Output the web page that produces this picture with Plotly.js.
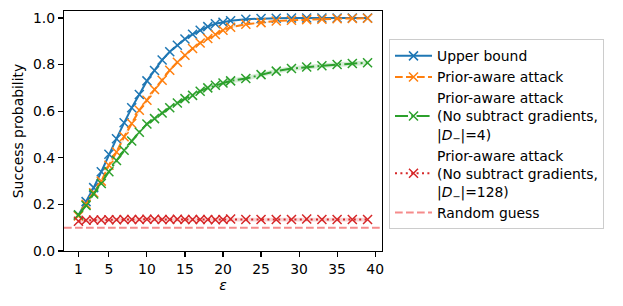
<!DOCTYPE html>
<html>
<head>
<meta charset="utf-8">
<script src="https://cdn.plot.ly/plotly-3.0.1.min.js"></script>
<style>html,body{margin:0;padding:0;background:#fff;}#chart{width:623px;height:306px;}</style>
</head>
<body>
<div id="chart"></div>
<script>
// ---- data ----
const eps = [1,2,3,4,5,6,7,8,9,10,11,12,13,14,15,16,17,18,19,20,21,23,25,27,29,31,33,35,37,39];
const upperBound = [0.153,0.212,0.272,0.340,0.415,0.482,0.550,0.615,0.672,0.730,0.775,0.820,0.855,0.883,0.910,0.930,0.947,0.963,0.975,0.982,0.988,0.995,0.998,0.999,1.000,1.000,1.000,1.000,1.000,1.000];
const priorAware = [0.150,0.200,0.250,0.300,0.368,0.425,0.490,0.547,0.604,0.647,0.693,0.733,0.776,0.810,0.840,0.869,0.893,0.912,0.929,0.947,0.960,0.973,0.980,0.987,0.990,0.993,0.995,0.997,0.998,0.999];
const priorAwareStd = [0.005,0.006,0.008,0.009,0.010,0.011,0.011,0.011,0.010,0.010,0.009,0.009,0.008,0.008,0.007,0.007,0.006,0.006,0.005,0.005,0.004,0.004,0.003,0.003,0.003,0.002,0.002,0.002,0.002,0.002];
const noSub4 = [0.155,0.195,0.245,0.290,0.340,0.388,0.432,0.472,0.510,0.545,0.568,0.592,0.615,0.635,0.654,0.668,0.686,0.700,0.711,0.721,0.730,0.740,0.757,0.772,0.783,0.790,0.795,0.800,0.805,0.808];
const noSub4Std = [0.005,0.006,0.007,0.007,0.008,0.008,0.008,0.008,0.008,0.008,0.008,0.008,0.008,0.009,0.009,0.009,0.009,0.009,0.009,0.009,0.010,0.010,0.010,0.010,0.010,0.010,0.010,0.010,0.010,0.010];
const noSub128 = [0.128,0.132,0.133,0.133,0.134,0.134,0.135,0.135,0.135,0.136,0.136,0.135,0.135,0.136,0.135,0.135,0.135,0.135,0.134,0.135,0.137,0.135,0.135,0.135,0.135,0.137,0.135,0.135,0.135,0.135];
const noSub128Std = [0.008,0.008,0.008,0.008,0.008,0.008,0.008,0.008,0.008,0.008,0.008,0.008,0.008,0.008,0.008,0.008,0.008,0.008,0.008,0.008,0.008,0.008,0.008,0.008,0.008,0.008,0.008,0.008,0.008,0.008];
const randomGuess = 0.1;
const xRange = [-0.9, 40.9];
const yRange = [0, 1.03];
const xTicks = [1,5,10,15,20,25,30,35,40];
const yTicks = [0.0,0.2,0.4,0.6,0.8,1.0];
const seriesNames = [
  "Upper bound",
  "Prior-aware attack",
  "Prior-aware attack<br>(No subtract gradients,<br>|<i>D</i><sub>−</sub>|=4)",
  "Prior-aware attack<br>(No subtract gradients,<br>|<i>D</i><sub>−</sub>|=128)",
  "Random guess"
];

const C0='#1f77b4', C1='#ff7f0e', C2='#2ca02c', C3='#d62728', CR='#f58b8b';
const FONT = 'DejaVu Sans, sans-serif';

function band(mean, std, fill){
  return [
    {x: eps, y: mean.map((m,i)=>m-std[i]), mode:'lines', line:{width:0, color:fill}, showlegend:false, hoverinfo:'skip'},
    {x: eps, y: mean.map((m,i)=>m+std[i]), mode:'lines', line:{width:0, color:fill}, fill:'tonexty', fillcolor:fill, showlegend:false, hoverinfo:'skip'}
  ];
}
function series(y, name, color, dash){
  return {x: eps, y: y, name: name, mode:'lines+markers',
    line:{color:color, width:2, dash:dash},
    marker:{symbol:'x-thin', size:9, color:color, line:{color:color, width:1.5}}};
}

const traces = [
  ...band(priorAware, priorAwareStd, 'rgba(255,127,14,0.2)'),
  ...band(noSub4, noSub4Std, 'rgba(44,160,44,0.2)'),
  ...band(noSub128, noSub128Std, 'rgba(214,39,40,0.2)'),
  series(upperBound, seriesNames[0], C0, 'solid'),
  series(priorAware, seriesNames[1], C1, '7.7px,3.3px'),
  series(noSub4, seriesNames[2], C2, '13px,3.3px,2px,3.3px'),
  series(noSub128, seriesNames[3], C3, '2px,3.4px'),
  {x: xRange, y: [randomGuess, randomGuess], name: seriesNames[4], mode:'lines',
   line:{color:CR, width:2, dash:'7.7px,3.3px'}}
];

const axisCommon = {
  showline:true, mirror:true, linecolor:'#000', linewidth:1.1,
  ticks:'outside', ticklen:5, tickwidth:1.1, tickcolor:'#000',
  showgrid:false, zeroline:false,
  tickfont:{family:FONT, size:13.9, color:'#000'}
};

const layout = {
  width:623, height:306,
  margin:{l:64, r:241, t:11, b:55, pad:0},
  paper_bgcolor:'#fff', plot_bgcolor:'#fff',
  font:{family:FONT, size:13.9, color:'#000'},
  xaxis: Object.assign({}, axisCommon, {
    range:xRange, tickmode:'array', tickvals:xTicks, ticktext:xTicks.map(String),
    title:{text:'<i>ε</i>', font:{family:FONT, size:13.9}, standoff:4}
  }),
  yaxis: Object.assign({}, axisCommon, {
    range:yRange, tickmode:'array', tickvals:yTicks, ticktext:yTicks.map(v=>v.toFixed(1)),
    title:{text:'Success probability', font:{family:FONT, size:13.9}, standoff:6}
  }),
  legend:{
    x:1.022, y:0.882, xanchor:'left', yanchor:'top',
    bgcolor:'#fff', bordercolor:'#cccccc', borderwidth:1,
    font:{family:FONT, size:13.9, color:'#000'},
    traceorder:'normal', tracegroupgap:0, itemwidth:37
  },
  showlegend:true
};

Plotly.newPlot('chart', traces, layout, {staticPlot:true, displayModeBar:false});
</script>
</body>
</html>
